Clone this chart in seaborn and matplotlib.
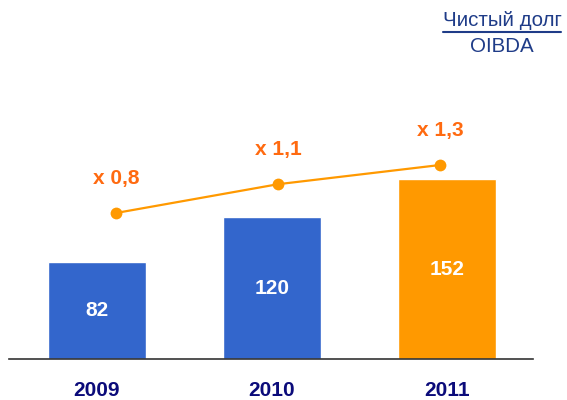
import matplotlib
matplotlib.use("Agg")
import matplotlib.pyplot as plt
import seaborn as sns
import pandas as pd
from matplotlib.lines import Line2D

# data
years = ["2009", "2010", "2011"]
net_debt = [82, 120, 152]
ratio = [0.8, 1.1, 1.3]
ratio_labels = ["x 0,8", "x 1,1", "x 1,3"]
bar_colors = ["#3366CC", "#3366CC", "#FF9900"]

sns.set_style("white")
plt.rcParams['font.family'] = ['Liberation Sans', 'DejaVu Sans']

fig = plt.figure(figsize=(5.67, 4), dpi=100)
rect = [9 / 567, 41 / 400, 524 / 567, 299 / 400]

# bars
ax = fig.add_axes(rect)
df = pd.DataFrame({'year': years, 'debt': net_debt})
sns.barplot(data=df, x='year', y='debt', hue='year', palette=bar_colors,
            legend=False, width=0.56, saturation=1, ax=ax)
ax.set_xlim(-0.5, 2.49)
ax.set_ylim(0, 253)
for i, v in enumerate(net_debt):
    ax.text(i, v / 2, str(v), ha='center', va='center', color='white',
            fontsize=15, fontweight='bold')
ax.set_xlabel('')
ax.set_ylabel('')
ax.set_yticks([])
ax.tick_params(axis='x', length=0, pad=16)
for lab in ax.get_xticklabels():
    lab.set_fontsize(15)
    lab.set_fontweight('bold')
    lab.set_color('#0B0B7A')
for s in ['top', 'right', 'left']:
    ax.spines[s].set_visible(False)
ax.spines['bottom'].set_color('#333333')
ax.spines['bottom'].set_linewidth(1.2)

# ratio line on its own overlay axes
ax2 = fig.add_axes(rect)
ax2.patch.set_visible(False)
sns.lineplot(x=range(len(ratio)), y=ratio, color='#FF9900', linewidth=1.6,
             marker='o', markersize=8.5, markeredgewidth=0, ax=ax2)
ax2.set_xlim(-0.66, 2.574)
ax2.set_ylim(-0.721, 2.394)
for i, (v, t) in enumerate(zip(ratio, ratio_labels)):
    ax2.annotate(t, (i, v), xytext=(0, 25), textcoords='offset points',
                 ha='center', va='center', color='#FF6A10',
                 fontsize=15, fontweight='bold')
ax2.axis('off')

# legend text top right
t1 = fig.text(502 / 567, 1 - 20 / 400, "Чистый долг", ha='center', va='center',
              fontsize=14.8, color='#1F3C88')
fig.text(502 / 567, 1 - 47 / 400, "OIBDA", ha='center', va='center',
         fontsize=14.8, color='#1F3C88')
fig.canvas.draw()
bb = t1.get_window_extent().transformed(fig.transFigure.inverted())
fig.add_artist(Line2D([bb.x0, bb.x1], [1 - 32 / 400, 1 - 32 / 400],
                      transform=fig.transFigure, color='#1F3C88', linewidth=1.5))

fig.savefig("out.png", dpi=100)
